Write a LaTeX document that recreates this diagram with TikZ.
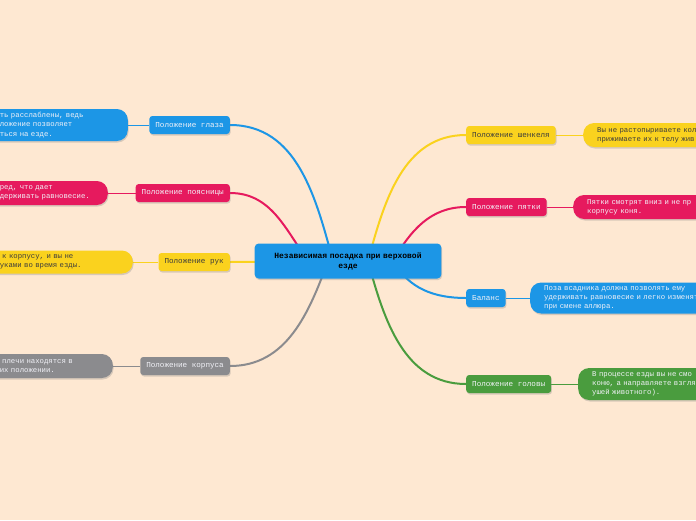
\documentclass[tikz,border=0pt]{standalone}
\usepackage{fontspec}
\setmonofont{Liberation Mono}
\usetikzlibrary{shadows}

\pgfdeclarelayer{bg}
\pgfdeclarelayer{links}
\pgfsetlayers{bg,links,main}

\begin{document}
\begin{tikzpicture}[x=1pt,y=-1pt,
  topic/.style={rounded corners=3pt,minimum height=18pt,inner xsep=6pt,inner ysep=0pt,
    font=\ttfamily\fontsize{7.6}{9}\selectfont,
    drop shadow={opacity=.3,shadow xshift=.8pt,shadow yshift=-1.5pt}},
  note/.style={rounded corners=11pt,inner xsep=14pt,inner ysep=2pt,align=left,
    font=\ttfamily\fontsize{7.3}{9.2}\selectfont,
    drop shadow={opacity=.3,shadow xshift=.8pt,shadow yshift=-1.5pt}},
  link/.style={line width=2pt},
  twig/.style={line width=.8pt}]
\definecolor{paper}{HTML}{FEE8D2}
\definecolor{mblue}{HTML}{1C96E6}
\definecolor{mpink}{HTML}{E61A5E}
\definecolor{myellow}{HTML}{FAD21E}
\definecolor{mgrey}{HTML}{8B8B8E}
\definecolor{mgreen}{HTML}{4A9C3E}
\definecolor{light}{HTML}{F2F2F8}
\definecolor{dark}{HTML}{3C3C3C}
\useasboundingbox (0,0) rectangle (696,520);
\begin{pgfonlayer}{bg}
  \fill[paper] (0,0) rectangle (696,520);
\end{pgfonlayer}

% main topic
\node[rounded corners=4pt,fill=mblue,minimum width=184pt,minimum height=35pt,
  text width=180pt,align=center,font=\ttfamily\bfseries\fontsize{8}{10}\selectfont,
  drop shadow={opacity=.3,shadow xshift=.8pt,shadow yshift=-1.5pt}]
  (c) at (348,261) {Независимая посадка при верховой\\езде};

% subtopics
\foreach \nm/\crlr/\tc/\ypos/\txt in {glaza/mblue/light/125/Положение глаза,
    poyasn/mpink/light/193/Положение поясницы,
    ruk/myellow/dark/262/Положение рук,
    korpus/mgrey/light/366/Положение корпуса}
  {\node[topic,fill=\crlr,text=\tc,anchor=east] (\nm) at (230,\ypos) {\txt};}
\foreach \nm/\crlr/\tc/\ypos/\txt in {shenkel/myellow/dark/135/Положение шенкеля,
    pyatka/mpink/light/207/Положение пятки,
    balans/mblue/light/298/Баланс,
    golova/mgreen/light/384/Положение головы}
  {\node[topic,fill=\crlr,text=\tc,anchor=west] (\nm) at (466,\ypos) {\txt};}

% notes
\node[note,fill=mblue,text=light,anchor=east,text width=114pt,minimum height=32pt]
  (nglaza) at (128,125) {ть расслаблены, ведь\\ложение позволяет\\ться на езде.};
\node[note,fill=mpink,text=light,anchor=east,text width=94pt,minimum height=24pt]
  (npoyasn) at (108,193) {ред, что дает\\держивать равновесие.};
\node[note,fill=myellow,text=dark,anchor=east,text width=119pt,minimum height=23pt]
  (nruk) at (133,262) {\ к корпусу, и вы не\\уками во время езды.};
\node[note,fill=mgrey,text=light,anchor=east,text width=99pt,minimum height=24pt]
  (nkorpus) at (113,366) {\ плечи находятся в\\их положении.};
\node[note,fill=myellow,text=dark,anchor=west,text width=200pt,minimum height=24pt]
  (nshenkel) at (583,135) {Вы не растопыриваете кол\\прижимаете их к телу жив};
\node[note,fill=mpink,text=light,anchor=west,text width=200pt,minimum height=24pt]
  (npyatka) at (573,207) {Пятки смотрят вниз и не пр\\корпусу коня.};
\node[note,fill=mblue,text=light,anchor=west,text width=200pt,minimum height=31pt]
  (nbalans) at (530,298) {Поза всадника должна позволять ему\\удерживать равновесие и легко изменят\\при смене аллюра.};
\node[note,fill=mgreen,text=light,anchor=west,text width=200pt,minimum height=32pt]
  (ngolova) at (578,384) {В процессе езды вы не смо\\коню, а направляете взгля\\ушей животного).};

\begin{pgfonlayer}{links}
  \draw[link,mblue] ([xshift=-15pt]c.center) to[out=105,in=0] (glaza.east);
  \draw[link,mpink] ([xshift=-40pt]c.center) to[out=125,in=0] (poyasn.east);
  \draw[link,myellow] (c.center) -- (ruk.east);
  \draw[link,mgrey] ([xshift=-20pt]c.center) to[out=-110,in=0] (korpus.east);
  \draw[link,myellow] ([xshift=20pt]c.center) to[out=75,in=180] (shenkel.west);
  \draw[link,mpink] ([xshift=45pt]c.center) to[out=60,in=180] (pyatka.west);
  \draw[link,mblue] ([xshift=45pt]c.center) to[out=-60,in=180] (balans.west);
  \draw[link,mgreen] ([xshift=20pt]c.center) to[out=-75,in=180] (golova.west);
  % twigs
  \draw[twig,mblue] (glaza.west) -- (nglaza.east);
  \draw[twig,mpink] (poyasn.west) -- (npoyasn.east);
  \draw[twig,myellow] (ruk.west) -- (nruk.east);
  \draw[twig,mgrey] (korpus.west) -- (nkorpus.east);
  \draw[twig,myellow] (shenkel.east) -- (nshenkel.west);
  \draw[twig,mpink] (pyatka.east) -- (npyatka.west);
  \draw[twig,mblue] (balans.east) -- (nbalans.west);
  \draw[twig,mgreen] (golova.east) -- (ngolova.west);
\end{pgfonlayer}
\end{tikzpicture}
\end{document}
